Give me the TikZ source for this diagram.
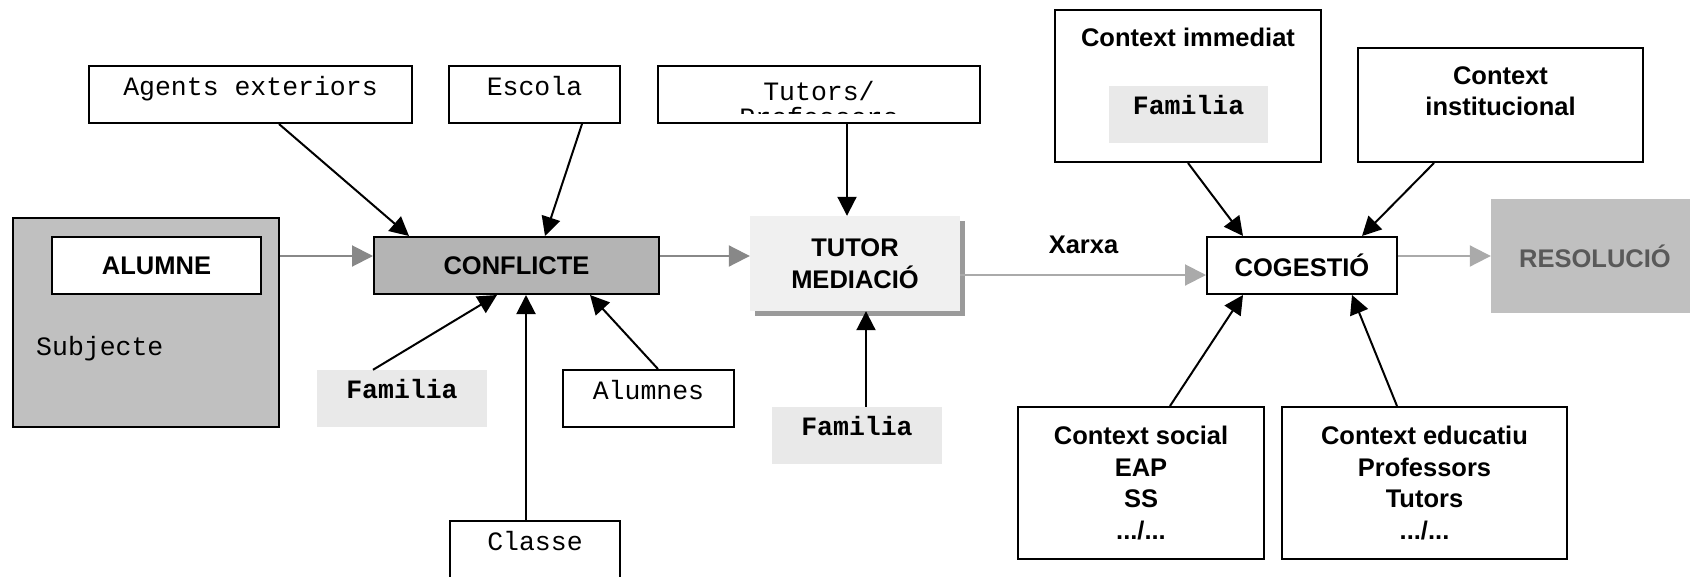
\documentclass[tikz,border=0pt]{standalone}
\usepackage{fontspec}
\setmainfont{Liberation Sans}
\setmonofont{Liberation Mono}
\usetikzlibrary{arrows.meta,shadows}

\definecolor{conflictgray}{HTML}{B4B4B4}
\definecolor{subjgray}{HTML}{C0C0C0}
\definecolor{famgray}{HTML}{E9E9E9}
\definecolor{tutorgray}{HTML}{F0F0F0}
\definecolor{shadowgray}{HTML}{9A9A9A}
\definecolor{flowgray}{HTML}{888888}
\definecolor{flowlight}{HTML}{AAAAAA}
\definecolor{resolgray}{HTML}{595959}

\begin{document}
\begin{tikzpicture}[x=1pt, y=-1pt,
    box/.style={draw, line width=2pt, inner sep=0pt, fill=white},
    sanstext/.style={font=\fontsize{25.5}{31.5}\selectfont\bfseries, align=center},
    monotext/.style={font=\fontsize{26.5}{26}\selectfont\ttfamily, text height=15pt, text depth=13pt},
    famtext/.style={font=\fontsize{26.5}{26}\selectfont\ttfamily\bfseries, text height=15pt, text depth=15pt,
        fill=famgray, inner sep=0pt, minimum height=57pt},
    inarrow/.style={-{Triangle[length=19pt,width=19pt]}, line width=2pt},
    flowarrow/.style={-{Triangle[length=21pt,width=21pt]}, line width=2pt, draw=flowgray, fill=flowgray},
    lightarrow/.style={-{Triangle[length=21pt,width=21pt]}, line width=2pt, draw=flowlight, fill=flowlight}]

    \useasboundingbox (0,0) rectangle (1690,576);

    % Subject
    \node[box, fill=subjgray, minimum width=266pt, minimum height=209pt] (subjecte) at (146,322.5) {};
    \node[box, sanstext, minimum width=209pt, minimum height=57pt] (alumne) at (156.5,265.5) {ALUMNE};
    \node[font=\fontsize{26.5}{26}\selectfont\ttfamily, anchor=base west, inner sep=0pt] (subjtext) at (36,355) {Subjecte};

    % Conflict and its sources
    \node[box, sanstext, fill=conflictgray, minimum width=285pt, minimum height=57pt] (conflicte) at (516.5,265.5) {CONFLICTE};
    \node[box, monotext, minimum width=323pt, minimum height=57pt] (agents) at (250.5,94.5) {Agents exteriors};
    \node[box, monotext, minimum width=171pt, minimum height=57pt] (escola) at (534.5,94.5) {Escola};
    \node[famtext, minimum width=170pt] (famconf) at (402,398.5) {Familia};
    \node[box, monotext, minimum width=171pt, minimum height=57pt] (alumnes) at (648.5,398.5) {Alumnes};
    \node[box, monotext, minimum width=170pt, minimum height=57pt] (classe) at (535,549.5) {Classe};

    % Mediation
    \node[box, minimum width=322pt, minimum height=57pt] (tutors) at (819,94.5) {};
    \begin{scope}
        \clip (658,66) rectangle (980,113);
        \node[font=\fontsize{26.5}{26}\selectfont\ttfamily, align=center, anchor=north, inner sep=0pt] (tutorstext) at (819,81) {Tutors/\\Professors};
    \end{scope}
    \node[sanstext, fill=tutorgray, inner sep=0pt, minimum width=210pt, minimum height=95pt,
        drop shadow={shadow xshift=4.5pt, shadow yshift=-4.5pt, fill=shadowgray, opacity=1}] (tutormed) at (855,263.5) {TUTOR\\MEDIACIÓ};
    \node[famtext, minimum width=170pt] (famtutor) at (857,435.5) {Familia};

    % Co-management
    \node[sanstext, inner sep=0pt] (xarxa) at (1083.5,245) {Xarxa};
    \node[box, sanstext, minimum width=190pt, minimum height=57pt] (cogestio) at (1302,265.5) {COGESTIÓ};
    \node[sanstext, fill=subjgray, text=resolgray, inner sep=0pt, minimum width=208pt, minimum height=114pt] (resolucio) at (1595,256) {RESOLUCIÓ};

    \node[box, minimum width=266pt, minimum height=152pt] (ctximm) at (1188,86) {};
    \node[sanstext] (ctximmtext) at (1188,37) {Context immediat};
    \node[famtext, minimum width=159pt] (famimm) at (1188.5,114.5) {Familia};
    \node[box, minimum width=285pt, minimum height=114pt] (ctxinst) at (1500.5,105) {};
    \node[sanstext] (ctxinsttext) at (1500.5,91) {Context\\institucional};
    \node[box, sanstext, minimum width=246pt, minimum height=152pt] (ctxsoc) at (1141,483) {Context social\\EAP\\SS\\.../...};
    \node[box, sanstext, minimum width=285pt, minimum height=152pt] (ctxedu) at (1424.5,483) {Context educatiu\\Professors\\Tutors\\.../...};

    % Arrows into the conflict
    \draw[inarrow] ([xshift=28.5pt]agents.south) -- ([xshift=36pt]conflicte.north west);
    \draw[inarrow] ([xshift=47.5pt]escola.south) -- ([xshift=28.5pt]conflicte.north);
    \draw[inarrow] ([xshift=-29pt]famconf.north) -- ([xshift=-19.5pt]conflicte.south);
    \draw[inarrow] ([xshift=-9pt]classe.north) -- ([xshift=9.5pt]conflicte.south);
    \draw[inarrow] ([xshift=9.5pt]alumnes.north) -- ([xshift=73.5pt]conflicte.south);

    % Arrows into the mediation
    \draw[inarrow] ([xshift=28pt]tutors.south) -- ([xshift=-8pt]tutormed.north);
    \draw[inarrow] ([xshift=9pt]famtutor.north) -- ([xshift=11pt]tutormed.south);

    % Arrows into the co-management
    \draw[inarrow] (ctximm.south) -- ([xshift=-59pt]cogestio.north);
    \draw[inarrow] ([xshift=-66.5pt]ctxinst.south) -- ([xshift=60pt]cogestio.north);
    \draw[inarrow] ([xshift=29pt]ctxsoc.north) -- ([xshift=-59pt]cogestio.south);
    \draw[inarrow] ([xshift=-27.5pt]ctxedu.north) -- ([xshift=50pt]cogestio.south);

    % Main flow
    \coordinate (confin) at ([yshift=9.5pt]conflicte.west);
    \coordinate (confout) at ([yshift=9.5pt]conflicte.east);
    \coordinate (xarxain) at ([yshift=-9.5pt]cogestio.west);
    \coordinate (cogout) at ([yshift=9.5pt]cogestio.east);
    \draw[flowarrow] (subjecte.east |- confin) -- (confin);
    \draw[flowarrow] (confout) -- (confout -| tutormed.west);
    \draw[lightarrow] (tutormed.east |- xarxain) -- (xarxain);
    \draw[lightarrow] (cogout) -- (cogout -| resolucio.west);
\end{tikzpicture}
\end{document}
